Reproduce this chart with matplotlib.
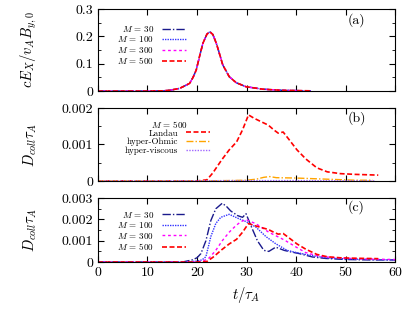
import matplotlib
matplotlib.use('Agg')
import matplotlib.pyplot as plt
from matplotlib.ticker import MultipleLocator

plt.rcParams['font.family'] = 'serif'
plt.rcParams['font.serif'] = ['cmr10']
plt.rcParams['mathtext.fontset'] = 'cm'
plt.rcParams['axes.formatter.use_mathtext'] = True

# (a) electric field, all M overlap
t_a = [0, 5, 10, 13, 14.5, 16.5, 18.5, 19.2, 19.85, 20.5, 21.2, 22, 22.6, 23.2, 23.9, 24.5,
       25.2, 26.5, 27.9, 29.9, 33.3, 37, 43]
e_a = [0, 0, 0, 0.001, 0.003, 0.010, 0.028, 0.050, 0.077, 0.126, 0.175, 0.208, 0.217, 0.207,
       0.175, 0.139, 0.096, 0.053, 0.031, 0.016, 0.007, 0.003, 0.001]
m_labels = ['$M\\,=\\,30$', '$M\\,=\\,100$', '$M\\,=\\,300$', '$M\\,=\\,500$']

# (b) M = 500, different collision operators
t_landau = [0, 10, 20, 22, 23.2, 25, 26.5, 28, 29.2, 30.4, 31.5, 33, 34.4, 35.5, 36.4, 37.4,
            38.5, 40.2, 42, 44.2, 46.3, 49, 52, 56.6]
d_landau = [0, 0, 0, 0.00003, 0.00022, 0.00058, 0.00085, 0.00107, 0.0014, 0.00181, 0.00172,
            0.00162, 0.00153, 0.0014, 0.00131, 0.00134, 0.00115, 0.00085, 0.0006, 0.00036,
            0.00025, 0.0002, 0.00018, 0.00016]
t_ohm = [0, 20, 26, 30, 32, 33.5, 34.7, 36, 40, 44, 48, 52, 55.5]
d_ohm = [0, 0, 0.00001, 0.00002, 0.00005, 0.0001, 0.00012, 0.00009, 0.00008, 0.00006,
         0.00004, 0.00002, 0.00002]
t_visc = [0, 30, 40, 50, 56]
d_visc = [0, 0.00001, 0.00001, 0.000005, 0]

# (c) dissipation for different M
t_m30 = [0, 17, 18, 19, 20, 20.8, 21.8, 22.8, 23.8, 25.1, 26, 26.8, 28.2, 29.2, 29.9, 30.9,
         32.2, 33.5, 34.5, 35.9, 37.6, 38.5, 40.6, 43.3, 46, 50, 55, 60]
d_m30 = [0, 0, 0.00005, 0.0001, 0.0002, 0.0004, 0.001, 0.00195, 0.0025, 0.00276, 0.0026,
         0.0024, 0.00218, 0.0021, 0.00227, 0.0017, 0.001, 0.00055, 0.0005, 0.0007, 0.00055,
         0.0005, 0.0004, 0.00024, 0.00017, 0.00012, 0.0001, 0.0001]
t_m100 = [0, 18, 20, 21, 21.8, 22.8, 23.8, 24.8, 26.5, 28.5, 29.9, 31.9, 33.9, 35.9, 38.2,
          40, 43.3, 46, 50, 55, 60]
d_m100 = [0, 0, 0.00005, 0.0001, 0.00025, 0.0012, 0.00181, 0.0021, 0.00224, 0.00203, 0.0019,
          0.00164, 0.0012, 0.00086, 0.00055, 0.00045, 0.0003, 0.0002, 0.00015, 0.00012, 0.0001]
t_m300 = [0, 20, 21.5, 22.5, 23.8, 25.1, 26.5, 27.9, 28.9, 29.9, 31.9, 34.5, 37.1, 37.9,
          39.9, 41.9, 44.6, 47, 50, 55, 60]
d_m300 = [0, 0, 0.00008, 0.0002, 0.00055, 0.001, 0.0014, 0.00172, 0.0019, 0.00199, 0.0018,
          0.0014, 0.0011, 0.001, 0.00072, 0.00045, 0.00028, 0.00022, 0.00018, 0.00014, 0.00012]
t_m500 = t_landau
d_m500 = d_landau

styles = [dict(color='#1a1a8c', ls=(0, (6, 1.5, 1, 1.5)), lw=1.0),
          dict(color='#3333ff', ls=(0, (1, 0.8)), lw=1.0),
          dict(color='#ff00ff', ls=(0, (2, 2)), lw=1.0),
          dict(color='#ff0000', ls=(0, (3, 1.5)), lw=1.2)]

fig = plt.figure(figsize=(4.15, 3.12), dpi=100)
L, W = 0.236, 0.716
ax_a = fig.add_axes([L, 0.708, W, 0.263])
ax_b = fig.add_axes([L, 0.420, W, 0.234])
ax_c = fig.add_axes([L, 0.160, W, 0.205])

for lab, st in zip(m_labels, styles):
    ax_a.plot(t_a, e_a, label=lab, **st)

ax_b.plot(t_landau, d_landau, label='Landau', **styles[3])
ax_b.plot(t_ohm, d_ohm, label='hyper-Ohmic', color='#ffa500', ls=(0, (5, 1.5, 1, 1.5)), lw=1.0)
ax_b.plot(t_visc, d_visc, label='hyper-viscous', color='#a066ff', ls=(0, (1, 1)), lw=1.0)

for t, d, lab, st in zip([t_m30, t_m100, t_m300, t_m500], [d_m30, d_m100, d_m300, d_m500],
                         m_labels, styles):
    ax_c.plot(t, d, label=lab, **st)

for ax in (ax_a, ax_b, ax_c):
    ax.set_xlim(0, 60)
    ax.xaxis.set_major_locator(MultipleLocator(10))
    ax.tick_params(which='both', direction='in', top=True, right=True, labelsize=10)
    ax.tick_params(which='major', length=4)
    ax.tick_params(which='minor', length=2)

ax_a.set_ylim(0, 0.3)
ax_a.yaxis.set_minor_locator(MultipleLocator(0.05))
ax_a.set_yticks([0, 0.1, 0.2, 0.3], ['0', '0.1', '0.2', '0.3'])
ax_b.set_ylim(0, 0.002)
ax_b.set_yticks([0, 0.001, 0.002], ['0', '0.001', '0.002'])
ax_b.yaxis.set_minor_locator(MultipleLocator(0.0005))
ax_c.set_ylim(0, 0.003)
ax_c.set_yticks([0, 0.001, 0.002, 0.003], ['0', '0.001', '0.002', '0.003'])
ax_c.yaxis.set_minor_locator(MultipleLocator(0.0005))
ax_a.tick_params(labelbottom=False)
ax_b.tick_params(labelbottom=False)
ax_c.set_xticks(range(0, 61, 10), [str(v) for v in range(0, 61, 10)])

ax_a.set_ylabel('$cE_X/v_AB_{y,0}$', fontsize=10.5)
ax_b.set_ylabel('$D_{coll}\\tau_A$', fontsize=10.5)
ax_c.set_ylabel('$D_{coll}\\tau_A$', fontsize=10.5)
ax_c.set_xlabel('$t/\\tau_A$', fontsize=10.5)
for ax in (ax_a, ax_b, ax_c):
    ax.yaxis.set_label_coords(-0.2, 0.5)

for ax, s in zip((ax_a, ax_b, ax_c), ('(a)', '(b)', '(c)')):
    ax.text(0.87, 0.86, s, transform=ax.transAxes, fontsize=10, ha='center', va='center')

leg_kw = dict(frameon=False, markerfirst=False, fontsize=6.5, handlelength=2.6,
              labelspacing=0.05, handletextpad=0.9, borderpad=0, borderaxespad=0)
lg_a = ax_a.legend(loc='upper left', bbox_to_anchor=(0.065, 0.82), **leg_kw)
lg_b = ax_b.legend(loc='upper left', bbox_to_anchor=(0.09, 0.71), **leg_kw)
lg_c = ax_c.legend(loc='upper left', bbox_to_anchor=(0.065, 0.82), **leg_kw)
for lg in (lg_a, lg_b, lg_c):
    for txt in lg.get_texts():
        txt.set_ha('right')
ax_b.text(0.242, 0.78, '$M\\,=\\,500$', transform=ax_b.transAxes, fontsize=6.5,
          ha='center', va='center')

fig.savefig('out.png', dpi=100)
